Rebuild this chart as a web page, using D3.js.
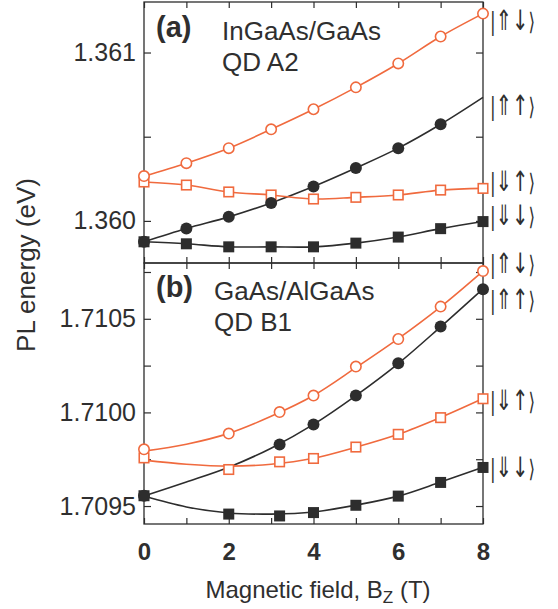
<!DOCTYPE html>
<html>
<head>
<meta charset="utf-8">
<script src="https://cdn.jsdelivr.net/npm/d3@7"></script>
<style>
  body { margin: 0; background: #fff; }
  text { font-family: "Liberation Sans", Arial, sans-serif; fill: #2f2f2f; }
</style>
</head>
<body>
<div id="chart"></div>
<script>
// panel (a): InGaAs/GaAs QD A2, whole tesla steps
const fieldA = [0, 1, 2, 3, 4, 5, 6, 7, 8]
const aUpDown = [1.360266, 1.360343, 1.360432, 1.360544, 1.360663, 1.360793, 1.360935, 1.361095, 1.361231]
const aUpUp = [1.359876, 1.359955, 1.360024, 1.360107, 1.360204, 1.360314, 1.360432, 1.360574, 1.360734]
const aUpUpMarked = 8   // last value of aUpUp is only the end of the fit line
const aDownUp = [1.360231, 1.360213, 1.360172, 1.360154, 1.360130, 1.360140, 1.360154, 1.360183, 1.360193]
const aDownDown = [1.359876, 1.359864, 1.359846, 1.359846, 1.359846, 1.359868, 1.359904, 1.359954, 1.359996]

// panel (b): GaAs/AlGaAs QD B1, measured points
const fieldB = [0, 2, 3.2, 4, 5, 6, 7, 8]
const fieldBUpUp = [0, 3.2, 4, 5, 6, 7, 8]
const bUpDown = [1.709803, 1.709887, 1.710002, 1.710090, 1.710245, 1.710392, 1.710565, 1.710755]
const bUpUp = [1.709555, 1.709828, 1.709936, 1.710090, 1.710262, 1.710459, 1.710658]
const bDownUp = [1.709757, 1.709695, 1.709736, 1.709754, 1.709815, 1.709883, 1.709972, 1.710073]
const bDownDown = [1.709555, 1.709457, 1.709447, 1.709465, 1.709504, 1.709553, 1.709626, 1.709706]

const fitFieldB = [0, 1, 2, 3, 4, 5, 6, 7, 8]
const bFitUpDown = [1.709793, 1.709830, 1.709888, 1.709979, 1.710090, 1.710239, 1.710394, 1.710564, 1.710755]
const bFitUpUp = [1.709553, 1.709628, 1.709707, 1.709809, 1.709936, 1.710090, 1.710261, 1.710457, 1.710660]
const bFitDownUp = [1.709745, 1.709723, 1.709713, 1.709723, 1.709755, 1.709814, 1.709883, 1.709973, 1.710074]
const bFitDownDown = [1.709553, 1.709495, 1.709463, 1.709457, 1.709468, 1.709505, 1.709553, 1.709628, 1.709707]

const xTickLabels = [0, 2, 4, 6, 8]
const yMajorA = [1.360, 1.361]
const yMinorA = [1.3605]
const yMajorB = [1.7095, 1.7100, 1.7105]
const yMinorB = [1.70975, 1.71025, 1.71075]

const width = 558, height = 609
const ink = "#2d2d2d", orange = "#f06a3e"

const svg = d3.select("#chart")
    .append("svg")
    .attr("width", width)
    .attr("height", height)

const x = d3.scaleLinear().domain([0, 8]).range([144, 483])

const panels = [
    {
        y: d3.scaleLinear().domain([1.35975, 1.3613]).range([263, 2]),
        major: yMajorA, minor: yMinorA, fmt: d3.format(".3f"),
        tag: "(a)", title: ["InGaAs/GaAs", "QD A2"], titleX: 222, titleY: 40,
        series: [
            { kind: "openCircle", lx: fieldA, ly: aUpDown, mx: fieldA, my: aUpDown, ket: "⇑↓", ketY: 21 },
            { kind: "dot", lx: fieldA, ly: aUpUp, mx: fieldA.slice(0, aUpUpMarked), my: aUpUp.slice(0, aUpUpMarked), ket: "⇑↑", ketY: 106 },
            { kind: "openSquare", lx: fieldA, ly: aDownUp, mx: fieldA, my: aDownUp, ket: "⇓↑", ketY: 182 },
            { kind: "square", lx: fieldA, ly: aDownDown, mx: fieldA, my: aDownDown, ket: "⇓↓", ketY: 216 }
        ]
    },
    {
        y: d3.scaleLinear().domain([1.709404, 1.710798]).range([524, 263]),
        major: yMajorB, minor: yMinorB, fmt: d3.format(".4f"),
        tag: "(b)", title: ["GaAs/AlGaAs", "QD B1"], titleX: 214, titleY: 300,
        series: [
            { kind: "openCircle", lx: fitFieldB, ly: bFitUpDown, mx: fieldB, my: bUpDown, ket: "⇑↓", ketY: 264 },
            { kind: "dot", lx: fitFieldB, ly: bFitUpUp, mx: fieldBUpUp, my: bUpUp, ket: "⇑↑", ketY: 300 },
            { kind: "openSquare", lx: fitFieldB, ly: bFitDownUp, mx: fieldB, my: bDownUp, ket: "⇓↑", ketY: 401 },
            { kind: "square", lx: fitFieldB, ly: bFitDownDown, mx: fieldB, my: bDownDown, ket: "⇓↓", ketY: 468 }
        ]
    }
]

const colorOf = kind => (kind === "openCircle" || kind === "openSquare") ? orange : ink

panels.forEach((p, pi) => {
    const g = svg.append("g")
    const [y0, y1] = p.y.range()

    // axes: ticks point inwards on all four sides
    const yTicks = p.major.concat(p.minor)
    g.append("g")
        .attr("transform", "translate(144,0)")
        .call(d3.axisLeft(p.y).tickValues(yTicks).tickSize(-7).tickPadding(8)
            .tickFormat(d => p.major.includes(d) ? p.fmt(d) : ""))
    g.append("g")
        .attr("transform", "translate(483,0)")
        .call(d3.axisRight(p.y).tickValues(yTicks).tickSize(-7).tickFormat(""))
    g.append("g")
        .attr("transform", `translate(0,${y1})`)
        .call(d3.axisTop(x).ticks(8).tickSize(-6).tickFormat(""))
    const bottomAxis = g.append("g")
        .attr("transform", `translate(0,${y0})`)
        .call(d3.axisBottom(x).ticks(8).tickSize(-6).tickPadding(19)
            .tickFormat(d => (pi === 1 && xTickLabels.includes(d)) ? d : ""))

    g.selectAll(".domain").remove()
    g.selectAll(".tick line").attr("stroke", ink).attr("stroke-width", 1.2)
    g.selectAll(".tick text").style("font-size", "25px").attr("fill", "#2f2f2f")
    bottomAxis.selectAll(".tick text").style("font-weight", "bold").style("font-size", "24px")

    g.append("rect")
        .attr("x", 144).attr("y", y1)
        .attr("width", 483 - 144).attr("height", y0 - y1)
        .attr("fill", "none").attr("stroke", ink).attr("stroke-width", 1.3)

    // fit curves
    const line = d3.line()
        .x(d => x(d[0]))
        .y(d => p.y(d[1]))
        .curve(d3.curveCatmullRom.alpha(0.5))

    p.series.forEach(s => {
        g.append("path")
            .attr("d", line(d3.zip(s.lx, s.ly)))
            .attr("fill", "none")
            .attr("stroke", colorOf(s.kind))
            .attr("stroke-width", 1.6)
    })

    // markers: squares first, circles over them
    const order = ["openSquare", "square", "openCircle", "dot"]
    order.forEach(kind => {
        p.series.filter(s => s.kind === kind).forEach(s => {
            const pts = d3.zip(s.mx, s.my)
            if (kind === "dot" || kind === "openCircle") {
                g.selectAll(null)
                    .data(pts)
                    .join("circle")
                    .attr("cx", d => x(d[0]))
                    .attr("cy", d => p.y(d[1]))
                    .attr("r", kind === "dot" ? 6 : 5.2)
                    .attr("fill", kind === "dot" ? ink : "#fff")
                    .attr("stroke", colorOf(kind))
                    .attr("stroke-width", kind === "dot" ? 0 : 1.6)
            } else {
                const side = kind === "square" ? 11 : 9.5
                g.selectAll(null)
                    .data(pts)
                    .join("rect")
                    .attr("x", d => x(d[0]) - side / 2)
                    .attr("y", d => p.y(d[1]) - side / 2)
                    .attr("width", side)
                    .attr("height", side)
                    .attr("fill", kind === "square" ? ink : "#fff")
                    .attr("stroke", colorOf(kind))
                    .attr("stroke-width", kind === "square" ? 0 : 1.6)
            }
        })
    })

    // state labels |..⟩ at the right, squeezed sideways so the arrows look tall
    p.series.forEach(s => {
        const t = svg.append("g")
            .attr("transform", `translate(490,${s.ketY + 9}) scale(0.7,1)`)
            .append("text")
            .style("font-family", "'DejaVu Sans', sans-serif")
            .style("font-size", "24px")
        t.append("tspan").text("|")
        t.append("tspan").style("font-size", "28px").text(s.ket)
        t.append("tspan").text("⟩")
    })

    svg.append("text")
        .attr("x", 156).attr("y", p.titleY - 3)
        .style("font-weight", "bold").style("font-size", "29px")
        .text(p.tag)
    svg.append("text")
        .attr("x", p.titleX).attr("y", p.titleY)
        .style("font-size", "26px")
        .text(p.title[0])
    svg.append("text")
        .attr("x", p.titleX).attr("y", p.titleY + 31)
        .style("font-size", "26px")
        .text(p.title[1])
})

// axis titles
const xTitle = svg.append("text")
    .attr("x", 318).attr("y", 598)
    .attr("text-anchor", "middle")
    .style("font-size", "24px")
xTitle.append("tspan").text("Magnetic field, B")
xTitle.append("tspan").attr("dy", 5).style("font-size", "17px").text("Z")
xTitle.append("tspan").attr("dy", -5).text(" (T)")

svg.append("text")
    .attr("transform", "translate(35,265) rotate(-90)")
    .attr("text-anchor", "middle")
    .style("font-size", "26px")
    .text("PL energy (eV)")
</script>
</body>
</html>
